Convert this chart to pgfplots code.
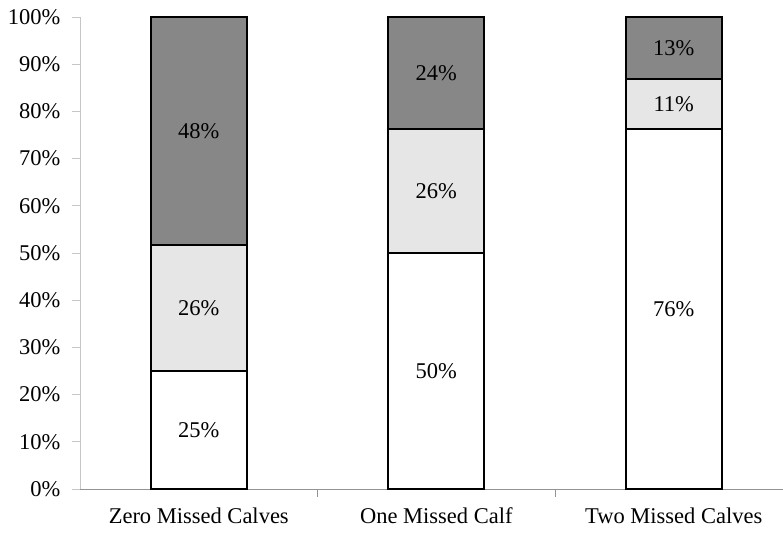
\documentclass[border=0pt]{standalone}
\usepackage{pgfplots}
\pgfplotsset{compat=1.18}
\usepackage{fontspec}
\setmainfont{Liberation Serif}

\definecolor{darkseg}{HTML}{878787}
\definecolor{lightseg}{HTML}{E6E6E6}

% segment heights (% of calves), bottom to top
% labels are the rounded values printed in the chart
\begin{document}
\begin{tikzpicture}
\pgfplotsset{
	base/.style={
		scale only axis,
		width=703pt, height=472pt,
		xmin=-0.5, xmax=2.46,
		ymin=0, ymax=100,
		font=\fontsize{22.5}{26}\selectfont,
	},
}
\begin{axis}[
	base,
	ybar stacked,
	bar width=0.404,
	axis lines*=left,
	x axis line style={draw=gray!85, line width=0.8pt},
	y axis line style={draw=gray!45, line width=0.8pt},
	tick align=outside,
	major tick length=8pt,
	ytick={0,10,...,100},
	yticklabels={0\%,10\%,20\%,30\%,40\%,50\%,60\%,70\%,80\%,90\%,100\%},
	y tick style={draw=gray!45, line width=0.8pt},
	yticklabel style={xshift=-8pt},
	xtick={0.5,1.5},
	xticklabels={},
	x tick style={draw=gray!85, line width=0.8pt},
	extra x ticks={0,1,2},
	extra x tick labels={Zero Missed Calves,One Missed Calf,Two Missed Calves},
	extra x tick style={major tick length=0pt,
		xticklabel style={yshift=-15pt, text height=16pt, text depth=5pt}},
	clip=false,
]
	\addplot[fill=white, draw=black, line width=2pt] coordinates {(0,25.1) (1,50.1) (2,76.2)};
	\addplot[fill=lightseg, draw=black, line width=2pt] coordinates {(0,26.5) (1,26.1) (2,10.6)};
	\addplot[fill=darkseg, draw=black, line width=2pt] coordinates {(0,48.4) (1,23.8) (2,13.2)};
	\coordinate (bl) at (rel axis cs:0,0);
	\coordinate (tr) at (rel axis cs:1,1);
\end{axis}
% value labels, centred in each segment
\begin{axis}[
	base,
	axis lines=none,
	clip=false,
	nodes near coords,
	point meta=explicit symbolic,
	every node near coord/.append style={anchor=center, inner sep=0pt},
]
	\addplot[only marks, mark=none] coordinates {
		(0,12.55)[25\%] (0,38.35)[26\%] (0,75.8)[48\%]
		(1,25.05)[50\%] (1,63.15)[26\%] (1,88.1)[24\%]
		(2,38.1)[76\%] (2,81.5)[11\%] (2,93.4)[13\%]
	};
\end{axis}
\pgfresetboundingbox
\path ([shift={(-80pt,-43pt)}]bl) rectangle ([shift={(0pt,17pt)}]tr);
\end{tikzpicture}
\end{document}
